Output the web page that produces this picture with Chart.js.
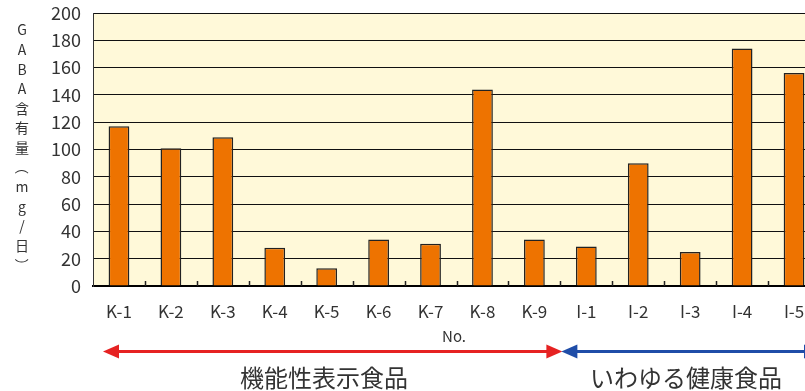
<!DOCTYPE html>
<html><head><meta charset="utf-8">
<script src="https://cdn.jsdelivr.net/npm/chart.js@4"></script>
<style>html,body{margin:0;padding:0;overflow:hidden;background:#fff;width:805px;height:391px}canvas{display:block}</style>
</head><body>
<canvas id="c" width="820" height="391"></canvas>
<script>
const categories = ["K-1","K-2","K-3","K-4","K-5","K-6","K-7","K-8","K-9","I-1","I-2","I-3","I-4","I-5"];
const gabaValues = [117,101,109,28,13,34,31,144,34,29,90,25,174,156];
const yTicks = [0,20,40,60,80,100,120,140,160,180,200];
const yTitleChars = ["G","A","B","A","含","有","量","（","m","g","/","日","）"];
const xTitle = "No.";
const groupLabels = ["機能性表示食品","いわゆる健康食品"];
const groupRanges = [[0,8],[9,13]];

const FONT = '"Noto Sans CJK JP","Noto Sans",sans-serif';
const TXT = '#333';

const decor = {
  id:'decor',
  beforeDraw(chart){
    const {ctx, chartArea:a} = chart;
    ctx.save();
    ctx.fillStyle = '#FFF9D9';
    ctx.fillRect(a.left, a.top, a.right-a.left, a.bottom-a.top);
    ctx.restore();
  },
  afterDraw(chart){
    const {ctx, chartArea:a, scales:{x}} = chart;
    ctx.save();
    ctx.strokeStyle = '#222'; ctx.lineWidth = 1.5;
    for(let i=1;i<categories.length;i++){
      const bx = Math.round((x.getPixelForValue(i-1)+x.getPixelForValue(i))/2)+0.5;
      ctx.beginPath(); ctx.moveTo(bx,a.bottom); ctx.lineTo(bx,a.bottom-5); ctx.stroke();
    }
    ctx.fillStyle = TXT; ctx.font = '14px '+FONT; ctx.textAlign='center'; ctx.textBaseline='middle';
    yTitleChars.forEach((ch,i)=>{
      const cy = 30 + i*19.6, cx = 22;
      if(ch==='（'||ch==='）'){
        ctx.save(); ctx.translate(cx,cy); ctx.rotate(Math.PI/2); ctx.fillText(ch,0,0); ctx.restore();
      } else ctx.fillText(ch,cx,cy);
    });
    ctx.font = '15px '+FONT;
    ctx.fillText(xTitle, 454, 336);
    const w = (x.getPixelForValue(1)-x.getPixelForValue(0));
    const edges = groupRanges.map(r=>[x.getPixelForValue(r[0])-w/2, x.getPixelForValue(r[1])+w/2]);
    const colors = ['#E62222','#1F4DA8'];
    const y = 351.5;
    edges.forEach((e,i)=>{
      const x0 = (i===0? e[0]+10 : e[0]+1), x1 = (i===0? e[1]+2 : e[1]);
      ctx.strokeStyle = colors[i]; ctx.fillStyle = colors[i]; ctx.lineWidth = 3;
      ctx.beginPath(); ctx.moveTo(x0+12,y); ctx.lineTo(x1-12,y); ctx.stroke();
      ctx.beginPath(); ctx.moveTo(x0,y); ctx.lineTo(x0+16,y-7); ctx.lineTo(x0+16,y+7); ctx.closePath(); ctx.fill();
      ctx.beginPath(); ctx.moveTo(x1,y); ctx.lineTo(x1-16,y-7); ctx.lineTo(x1-16,y+7); ctx.closePath(); ctx.fill();
    });
    ctx.fillStyle = TXT; ctx.font = '24px '+FONT; ctx.textBaseline='middle';
    ctx.textAlign='center';
    ctx.fillText(groupLabels[0], 324, 378);
    ctx.textAlign='left';
    ctx.fillText(groupLabels[1], 590, 378);
    ctx.restore();
  }
};

new Chart(document.getElementById('c'), {
  type:'bar',
  data:{labels:categories, datasets:[{data:gabaValues, backgroundColor:'#EE7300', borderColor:'#222', borderWidth:1.5, barPercentage:0.4, categoryPercentage:1}]},
  options:{
    responsive:false, animation:false,
    layout:{padding:{top:13,left:0,right:0,bottom:0}},
    plugins:{legend:{display:false}, tooltip:{enabled:false}},
    scales:{
      x:{
        grid:{display:false, drawTicks:false},
        border:{display:true, color:'#000', width:2},
        ticks:{color:TXT, font:{family:FONT, size:17}, padding:15, maxRotation:0, autoSkip:false},
        afterFit(s){ s.height = 105; s.paddingLeft = 0; s.paddingRight = 0; }
      },
      y:{
        min:0, max:200,
        afterBuildTicks(s){ s.ticks = yTicks.map(v=>({value:v})); },
        grid:{color:'#111', lineWidth:1, drawTicks:false},
        border:{display:true, color:'#333', width:1},
        ticks:{color:TXT, font:{family:FONT, size:18}, padding:12},
        afterFit(s){ s.width = 93; s.paddingTop = 0; s.paddingBottom = 0; }
      }
    }
  },
  plugins:[decor]
});
</script>
</body></html>
